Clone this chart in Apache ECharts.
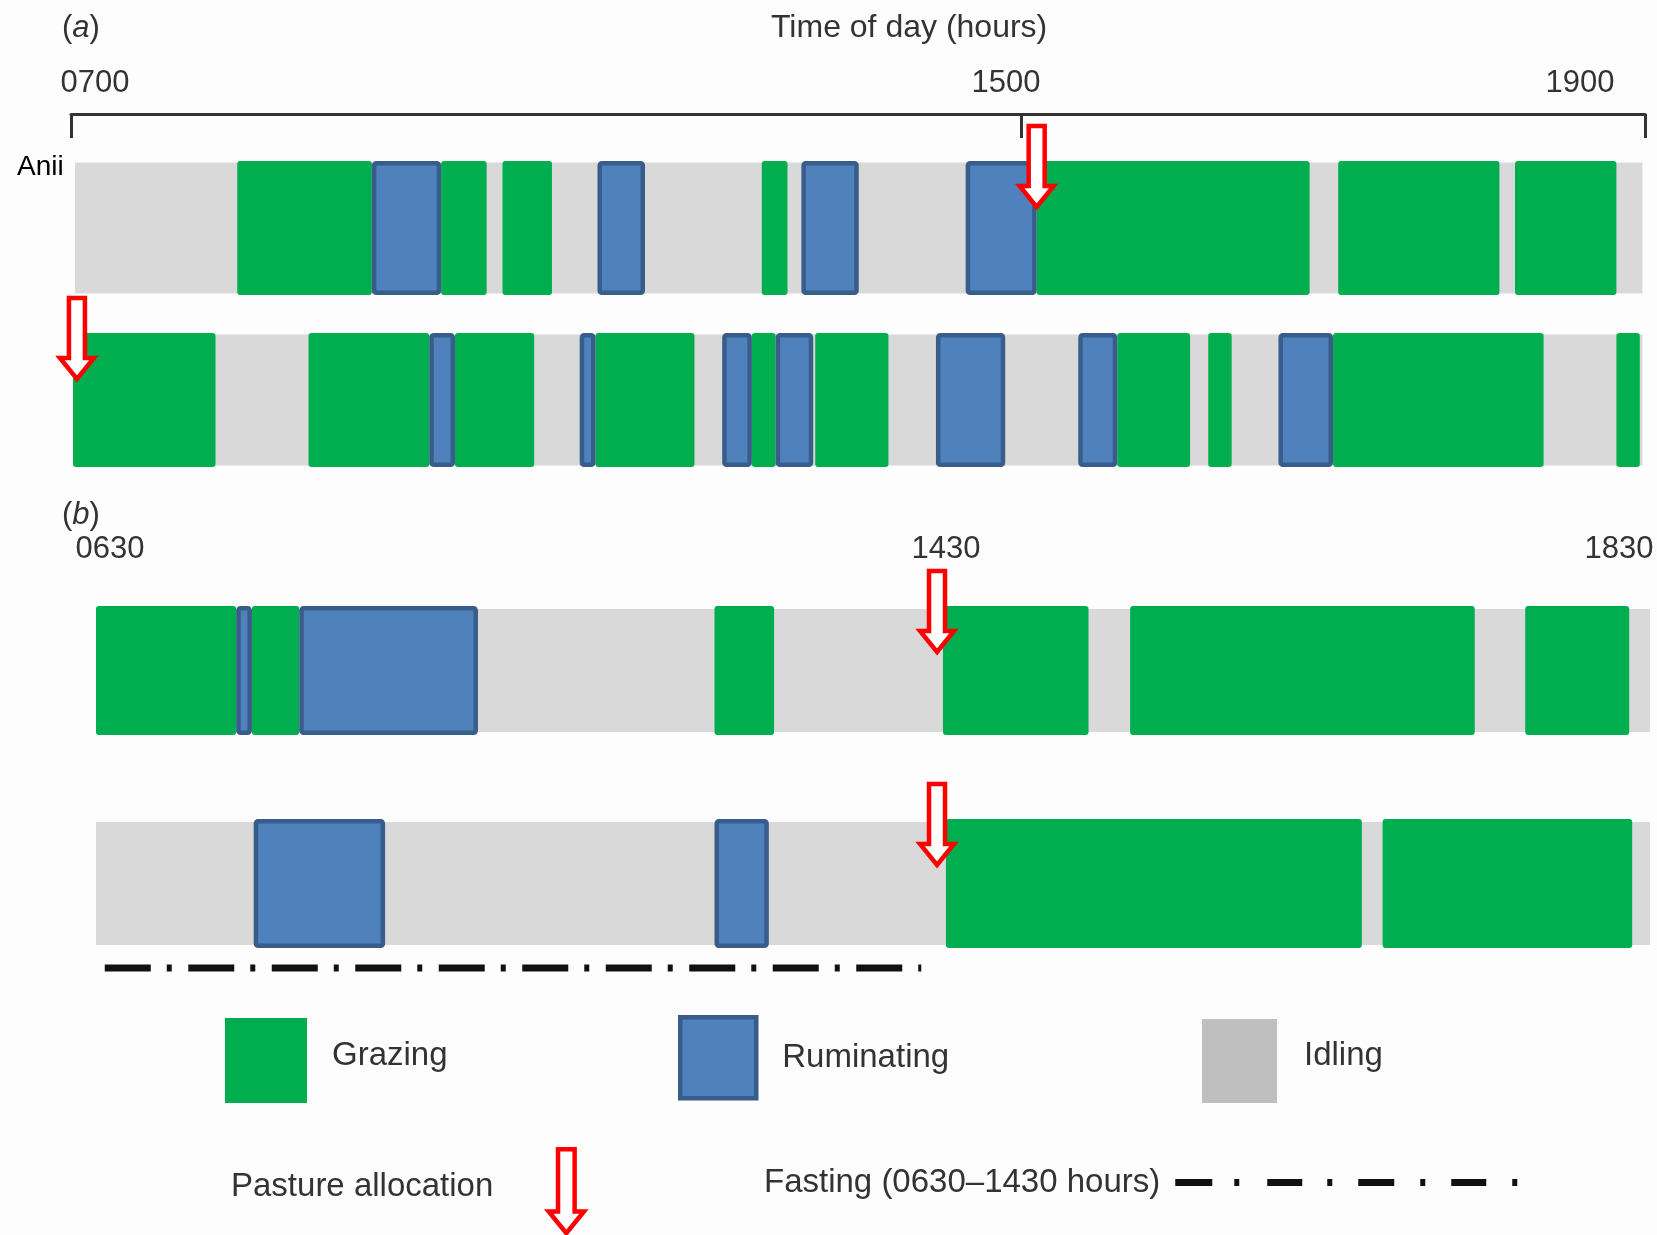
<!DOCTYPE html>
<html>
<head>
<meta charset="utf-8">
<title>Grazing behaviour</title>
<script src="https://cdn.jsdelivr.net/npm/echarts@6.0.0/dist/echarts.min.js"></script>
<style>
    html, body { margin: 0; padding: 0; background: #fdfdfd; }
    #container_behaviour { width: 1657px; height: 1235px; }
</style>
</head>
<body>
<div id="container_behaviour"></div>
<script>
// =================================================================================
// Data, clock times
var rowsA = ['A1', 'A2'];
var rowsB = ['B1', 'B2'];

// tick labels, the clock time behind each one, and where it sits along the bar
// (the original time axis is not drawn to one linear scale)
var tickLabelsA = ['0700', '1500', '1900'];
var tickTimesA = ['07:00', '15:00', '19:00'];
var tickStopsA = [0, 0.6036, 1];
var tickLabelsB = ['0630', '1430', '1830'];
var tickTimesB = ['06:30', '14:30', '18:30'];
var tickStopsB = [0, 0.5412, 1];

// panel (a)
var idlingA1 = ['07:02', '18:59'];
var grazingA1 = [['08:24', '09:32'], ['10:07', '10:30'], ['10:38', '11:03'], ['12:49', '13:02'],
    ['15:06', '16:51'], ['17:02', '18:04'], ['18:10', '18:49']];
var ruminatingA1 = [['09:32', '10:07'], ['11:26', '11:50'], ['13:09', '13:38'], ['14:32', '15:06']];
var idlingA2 = ['07:01', '18:59'];
var grazingA2 = [['07:01', '08:13'], ['09:00', '10:01'], ['10:14', '10:54'], ['11:25', '12:15'],
    ['12:44', '12:56'], ['13:16', '13:53'], ['15:37', '16:05'], ['16:12', '16:21'],
    ['17:00', '18:21'], ['18:49', '18:58']];
var ruminatingA2 = [['10:01', '10:14'], ['11:17', '11:25'], ['12:29', '12:44'], ['12:56', '13:15'],
    ['14:17', '14:52'], ['15:22', '15:37'], ['16:39', '17:00']];
var pastureA = ['15:06', '07:03'];

// panel (b)
var idlingB1 = ['06:30', '18:30'];
var grazingB1 = [['06:30', '07:50'], ['07:59', '08:26'], ['12:23', '12:57'], ['14:32', '15:21'],
    ['15:35', '17:31'], ['17:48', '18:23']];
var ruminatingB1 = [['07:50', '07:59'], ['08:26', '10:08']];
var idlingB2 = ['06:30', '18:30'];
var grazingB2 = [['14:33', '16:53'], ['17:00', '18:24']];
var ruminatingB2 = [['08:00', '09:15'], ['12:23', '12:54']];
var pastureB = ['14:30', '14:30'];
var fastingB2 = ['06:35', '14:21'];

var fastingName = 'Fasting (0630\u20131430 hours)';
var fontFamily = "'Liberation Sans', Arial, sans-serif";

// =================================================================================
// Helpers
function toMin(clock) {
    var p = clock.split(':');
    return parseInt(p[0], 10) * 60 + parseInt(p[1], 10);
}

// clock time -> position along the bar (0..1), piecewise between ticks
function toStop(clock, times, stops) {
    var t = toMin(clock);
    for (var i = 1; i < times.length; i++) {
        var t0 = toMin(times[i - 1]), t1 = toMin(times[i]);
        if (t <= t1 || i === times.length - 1) {
            return stops[i - 1] + (t - t0) / (t1 - t0) * (stops[i] - stops[i - 1]);
        }
    }
}

function spans(list, row, times, stops) {
    var res = [];
    for (var i = 0; i < list.length; i++) {
        res.push([toStop(list[i][0], times, stops), toStop(list[i][1], times, stops), row]);
    }
    return res;
}

function tickFormatter(stops, labels) {
    return function (value) {
        for (var i = 0; i < stops.length; i++) {
            if (Math.abs(stops[i] - value) < 1e-6) {
                return '{s' + i + '|' + labels[i] + '}';
            }
        }
        return '';
    };
}

function tickRich(pads) {
    var rich = {};
    for (var i = 0; i < pads.length; i++) {
        rich['s' + i] = { fontSize: 31, lineHeight: 31, color: '#333', fontFamily: fontFamily, padding: pads[i] };
    }
    return rich;
}

// draws one behaviour block
function blockRender(kind, barRatio, idleInset) {
    return function (params, api) {
        var start = api.coord([api.value(0), api.value(2)]);
        var end = api.coord([api.value(1), api.value(2)]);
        var h = api.size([0, 1])[1] * barRatio;
        var x = start[0], y = start[1] - h / 2, w = end[0] - start[0];
        if (kind === 'idle') {
            return {
                type: 'rect',
                shape: { x: x, y: y + idleInset, width: w, height: h - 2 * idleInset },
                style: { fill: '#d9d9d9' }
            };
        }
        if (kind === 'rum') {
            var lw = 4.5;
            return {
                type: 'rect',
                shape: { x: x + lw / 2, y: y + lw / 2, width: w - lw, height: h - lw, r: 2 },
                style: { fill: '#4f81bd', stroke: '#385d8a', lineWidth: lw }
            };
        }
        return {
            type: 'rect',
            shape: { x: x, y: y, width: w, height: h, r: 3 },
            style: { fill: '#00ae4f' }
        };
    };
}

// red outlined arrow pointing at the pasture allocation time
function arrowRender(barRatio) {
    return function (params, api) {
        var p = api.coord([api.value(0), api.value(1)]);
        var h = api.size([0, 1])[1] * barRatio;
        var top = p[1] - h / 2;
        var x = p[0];
        return {
            type: 'polygon',
            shape: {
                points: [[x - 8, top - 35], [x + 8, top - 35], [x + 8, top + 25], [x + 17, top + 25],
                    [x, top + 46], [x - 17, top + 25], [x - 8, top + 25]]
            },
            style: { fill: '#ffffff', stroke: '#ff0000', lineWidth: 4.5, lineJoin: 'miter' }
        };
    };
}

function fastingRender(barRatio) {
    return function (params, api) {
        var start = api.coord([api.value(0), api.value(2)]);
        var end = api.coord([api.value(1), api.value(2)]);
        var h = api.size([0, 1])[1] * barRatio;
        var y = start[1] + h / 2 + 20;
        return {
            type: 'line',
            shape: { x1: start[0], y1: y, x2: end[0], y2: y },
            style: { stroke: '#111111', lineWidth: 7, lineDash: [46, 16, 5, 16.5], lineCap: 'butt' }
        };
    };
}

var ratioA = 134 / 172, ratioB = 129 / 213;

var arrowPath = 'path://M-8,0L8,0L8,60L17,60L0,81L-17,60L-8,60Z';
var dashPath = 'path://M0,0h37v7h-37z M59,0h5v7h-5z M92,0h35v7h-35z M152,0h5v7h-5z ' +
    'M183,0h36v7h-36z M245,0h5v7h-5z M276,0h35v7h-35z M337,0h5v7h-5z';

// legend text; the rich padding moves the words off the icon and lifts them a little
function legendText(pad) {
    return {
        fontSize: 33, color: '#333', fontFamily: fontFamily,
        rich: { t: { fontSize: 33, color: '#333', fontFamily: fontFamily, padding: pad } }
    };
}
function legendLabel(name) {
    return '{t|' + name + '}';
}

// =================================================================================
// Chart
var behaviour_charts = echarts.init(document.getElementById('container_behaviour'));

var option_behaviour = {
    backgroundColor: '#fdfdfd',
    animation: false,
    textStyle: { fontFamily: fontFamily },
    title: [
        {
            text: '({i|a})', left: 57, top: 5,
            textStyle: { fontSize: 31, lineHeight: 36, fontWeight: 'normal', color: '#333',
                rich: { i: { fontSize: 31, lineHeight: 36, fontStyle: 'italic', color: '#333' } } }
        },
        {
            text: 'Time of day (hours)', left: 766, top: 5,
            textStyle: { fontSize: 32, lineHeight: 36, fontWeight: 'normal', color: '#333' }
        },
        {
            text: '({i|b})', left: 57, top: 492,
            textStyle: { fontSize: 31, lineHeight: 36, fontWeight: 'normal', color: '#333',
                rich: { i: { fontSize: 31, lineHeight: 36, fontStyle: 'italic', color: '#333' } } }
        },
        {
            text: 'Anii', left: 12, top: 146,
            textStyle: { fontSize: 28, lineHeight: 32, fontWeight: 'normal', color: '#000' }
        }
    ],
    legend: [
        {
            selectedMode: false, padding: 0, left: 225, top: 1018, itemWidth: 82, itemHeight: 85,
            formatter: legendLabel, textStyle: legendText([0, 0, 10, 20]),
            data: [{ name: 'Grazing', icon: 'rect', itemStyle: { color: '#00ae4f' } }]
        },
        {
            selectedMode: false, padding: 0, left: 678, top: 1015, itemWidth: 76, itemHeight: 81,
            formatter: legendLabel, textStyle: legendText([0, 0, 0, 21]),
            data: [{ name: 'Ruminating', icon: 'rect',
                itemStyle: { color: '#4f81bd', borderColor: '#385d8a', borderWidth: 4.5 } }]
        },
        {
            selectedMode: false, padding: 0, left: 1202, top: 1019, itemWidth: 75, itemHeight: 84,
            formatter: legendLabel, textStyle: legendText([0, 0, 10, 22]),
            data: [{ name: 'Idling', icon: 'rect', itemStyle: { color: '#bfbfbf' } }]
        },
        {
            selectedMode: false, padding: 0, left: 231, top: 1147, align: 'right', itemWidth: 38, itemHeight: 84,
            formatter: legendLabel, textStyle: legendText([0, 49, 8, 0]),
            data: [{ name: 'Pasture allocation', icon: arrowPath,
                itemStyle: { color: '#ffffff', borderColor: '#ff0000', borderWidth: 4.5 } }]
        },
        {
            selectedMode: false, padding: 0, left: 764, top: 1166, align: 'right', itemWidth: 342, itemHeight: 7,
            formatter: legendLabel, textStyle: legendText([0, 10, 0, 0]),
            data: [{ name: fastingName, icon: dashPath, itemStyle: { color: '#111111', borderWidth: 0 } }]
        }
    ],
    grid: [
        { left: 71, right: 12, top: 142, height: 344, containLabel: false, outerBoundsMode: 'none' },
        { left: 96, right: 7, top: 564, height: 426, containLabel: false, outerBoundsMode: 'none' }
    ],
    xAxis: [
        {
            gridIndex: 0, type: 'value', position: 'top', min: 0, max: 1, offset: 28,
            axisLine: { show: true, onZero: false, lineStyle: { color: '#333', width: 3 } },
            axisTick: { show: true, inside: true, length: 24, customValues: tickStopsA,
                lineStyle: { color: '#333', width: 3 } },
            axisLabel: { customValues: tickStopsA, margin: 15,
                formatter: tickFormatter(tickStopsA, tickLabelsA),
                rich: tickRich([[0, 0, 0, 48], [0, 30, 0, 0], [0, 130, 0, 0]]) },
            splitLine: { show: false }
        },
        {
            gridIndex: 1, type: 'value', position: 'top', min: 0, max: 1,
            axisLine: { show: false, onZero: false },
            axisTick: { show: false },
            axisLabel: { customValues: tickStopsB, margin: -1,
                formatter: tickFormatter(tickStopsB, tickLabelsB),
                rich: tickRich([[0, 0, 0, 28], [0, 0, 0, 18], [0, 62, 0, 0]]) },
            splitLine: { show: false }
        }
    ],
    yAxis: [
        { gridIndex: 0, type: 'category', data: rowsA, inverse: true, show: false },
        { gridIndex: 1, type: 'category', data: rowsB, inverse: true, show: false }
    ],
    series: [
        // panel (a)
        {
            name: 'Idling', type: 'custom', xAxisIndex: 0, yAxisIndex: 0, z: 1,
            itemStyle: { color: '#d9d9d9' },
            renderItem: blockRender('idle', ratioA, 1.5),
            encode: { x: [0, 1], y: 2 },
            data: spans([idlingA1], 0, tickTimesA, tickStopsA).concat(spans([idlingA2], 1, tickTimesA, tickStopsA))
        },
        {
            name: 'Grazing', type: 'custom', xAxisIndex: 0, yAxisIndex: 0, z: 2,
            itemStyle: { color: '#00ae4f' },
            renderItem: blockRender('graze', ratioA, 0),
            encode: { x: [0, 1], y: 2 },
            data: spans(grazingA1, 0, tickTimesA, tickStopsA).concat(spans(grazingA2, 1, tickTimesA, tickStopsA))
        },
        {
            name: 'Ruminating', type: 'custom', xAxisIndex: 0, yAxisIndex: 0, z: 3,
            itemStyle: { color: '#4f81bd', borderColor: '#385d8a' },
            renderItem: blockRender('rum', ratioA, 0),
            encode: { x: [0, 1], y: 2 },
            data: spans(ruminatingA1, 0, tickTimesA, tickStopsA).concat(spans(ruminatingA2, 1, tickTimesA, tickStopsA))
        },
        {
            name: 'Pasture allocation', type: 'custom', xAxisIndex: 0, yAxisIndex: 0, z: 4,
            itemStyle: { color: '#ff0000' },
            renderItem: arrowRender(ratioA),
            encode: { x: 0, y: 1 },
            data: [[toStop(pastureA[0], tickTimesA, tickStopsA), 0], [toStop(pastureA[1], tickTimesA, tickStopsA), 1]]
        },
        // panel (b)
        {
            name: 'Idling', type: 'custom', xAxisIndex: 1, yAxisIndex: 1, z: 1,
            itemStyle: { color: '#d9d9d9' },
            renderItem: blockRender('idle', ratioB, 3),
            encode: { x: [0, 1], y: 2 },
            data: spans([idlingB1], 0, tickTimesB, tickStopsB).concat(spans([idlingB2], 1, tickTimesB, tickStopsB))
        },
        {
            name: 'Grazing', type: 'custom', xAxisIndex: 1, yAxisIndex: 1, z: 2,
            itemStyle: { color: '#00ae4f' },
            renderItem: blockRender('graze', ratioB, 0),
            encode: { x: [0, 1], y: 2 },
            data: spans(grazingB1, 0, tickTimesB, tickStopsB).concat(spans(grazingB2, 1, tickTimesB, tickStopsB))
        },
        {
            name: 'Ruminating', type: 'custom', xAxisIndex: 1, yAxisIndex: 1, z: 3,
            itemStyle: { color: '#4f81bd', borderColor: '#385d8a' },
            renderItem: blockRender('rum', ratioB, 0),
            encode: { x: [0, 1], y: 2 },
            data: spans(ruminatingB1, 0, tickTimesB, tickStopsB).concat(spans(ruminatingB2, 1, tickTimesB, tickStopsB))
        },
        {
            name: 'Pasture allocation', type: 'custom', xAxisIndex: 1, yAxisIndex: 1, z: 4,
            itemStyle: { color: '#ff0000' },
            renderItem: arrowRender(ratioB),
            encode: { x: 0, y: 1 },
            data: [[toStop(pastureB[0], tickTimesB, tickStopsB), 0], [toStop(pastureB[1], tickTimesB, tickStopsB), 1]]
        },
        {
            name: fastingName, type: 'custom', xAxisIndex: 1, yAxisIndex: 1, z: 4,
            itemStyle: { color: '#111111' },
            renderItem: fastingRender(ratioB),
            encode: { x: [0, 1], y: 2 },
            data: spans([fastingB2], 1, tickTimesB, tickStopsB)
        }
    ]
};

behaviour_charts.setOption(option_behaviour);
</script>
</body>
</html>
